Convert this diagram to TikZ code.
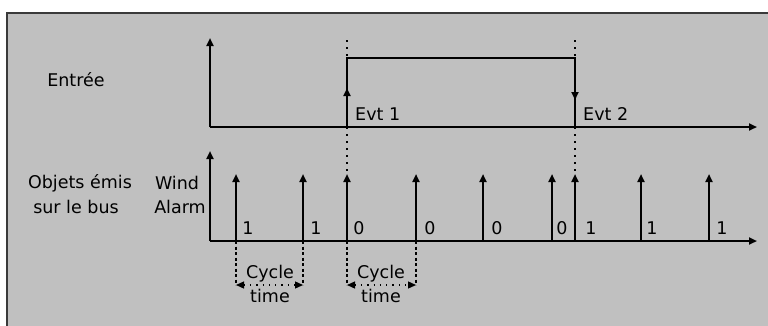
\documentclass[tikz,border=0pt]{standalone}
\usepackage{fontspec}
\setmainfont{DejaVu Sans}
\usetikzlibrary{arrows.meta}
\definecolor{panel}{HTML}{C0C0C0}
\definecolor{rim}{HTML}{3A3A3A}
\tikzset{
  head/.tip={Triangle[length=8pt,width=7pt]},
  axis/.style={line width=2pt,-head},
  pulse/.style={line width=2pt,-head},
  trace/.style={line width=2pt},
  guide/.style={line width=1.6pt,dash pattern=on 1.6pt off 5.4pt},
  dimline/.style={line width=1.6pt,dash pattern=on 3pt off 2.5pt},
  span/.style={line width=1.3pt,dash pattern=on 1.3pt off 5pt,head-head},
  lbl/.style={inner sep=0pt,font=\fontsize{17.5}{20}\selectfont},
  cover/.style={lbl,fill=panel,inner sep=0.5pt},
}
\begin{document}
\begin{tikzpicture}[x=1pt,y=-1pt]
\useasboundingbox (0,0) rectangle (768,325);
% panel
\draw[rim,line width=2pt,fill=panel] (7,13) rectangle (790,345);

% ---------- input signal ----------
\coordinate (o1) at (210,127);
\coordinate (y1) at (210,38);
\coordinate (x1) at (757,127);
\coordinate (r0) at (347,127);
\coordinate (r1) at (347,58);
\coordinate (f1) at (575,58);
\coordinate (f0) at (575,127);
\draw[axis] (o1) -- (y1);
\draw[axis] (o1) -- (x1);
\draw[trace] (r0) -- (r1) -- (f1) -- (f0);
\draw[trace,-head] (r0) -- (347,88);
\draw[trace,-head] (f1) -- (575,100);

% event guides
\coordinate (g1a) at (347,40);
\coordinate (g2a) at (575,40);
\coordinate (g1b) at (347,176);
\coordinate (g2b) at (575,176);
\draw[guide] (g1a) -- (r1);
\draw[guide] (g2a) -- (f1);
\draw[guide] (r0) -- (g1b);
\draw[guide] (f0) -- (g2b);

\node[lbl] (entree) at (76,80) {Entrée};
\node[lbl,anchor=west] (evt1) at (355,114) {Evt 1};
\node[lbl,anchor=west] (evt2) at (583,114) {Evt 2};

% ---------- bus telegrams ----------
\coordinate (o2) at (210,241);
\coordinate (y2) at (210,151);
\coordinate (x2) at (757,241);
\draw[axis] (o2) -- (y2);
\draw[axis] (o2) -- (x2);

\foreach \px/\lx/\v [count=\i] in {236/248/1, 303/316/1, 347/359/0, 416/430/0, 483/497/0, 552/562/0, 575/591/1, 641/652/1, 709/722/1}{
  \coordinate (p\i) at (\px,241);
  \coordinate (t\i) at (\px,174);
  \draw[pulse] (p\i) -- (t\i);
  \node[lbl] (v\i) at (\lx,228) {\v};
}

\node[lbl] (obj1) at (80,183) {Objets émis};
\node[lbl] (obj2) at (76,207) {sur le bus};
\node[lbl] (wind) at (177,183) {Wind};
\node[lbl] (alarm) at (180,207) {Alarm};

% ---------- cycle time markers ----------
\coordinate (c1a) at (236,285);
\coordinate (c1b) at (303,285);
\coordinate (c2a) at (347,285);
\coordinate (c2b) at (416,285);
\draw[dimline] (p1) -- (c1a);
\draw[dimline] (p2) -- (c1b);
\draw[dimline] (p3) -- (c2a);
\draw[dimline] (p4) -- (c2b);
\draw[span] (c1a) -- (c1b);
\draw[span] (c2a) -- (c2b);
\node[cover] (cyc1) at (270,274) {Cycle};
\node[cover] (tim1) at (270,296) {time};
\node[cover] (cyc2) at (381,274) {Cycle};
\node[cover] (tim2) at (381,296) {time};
\end{tikzpicture}
\end{document}
